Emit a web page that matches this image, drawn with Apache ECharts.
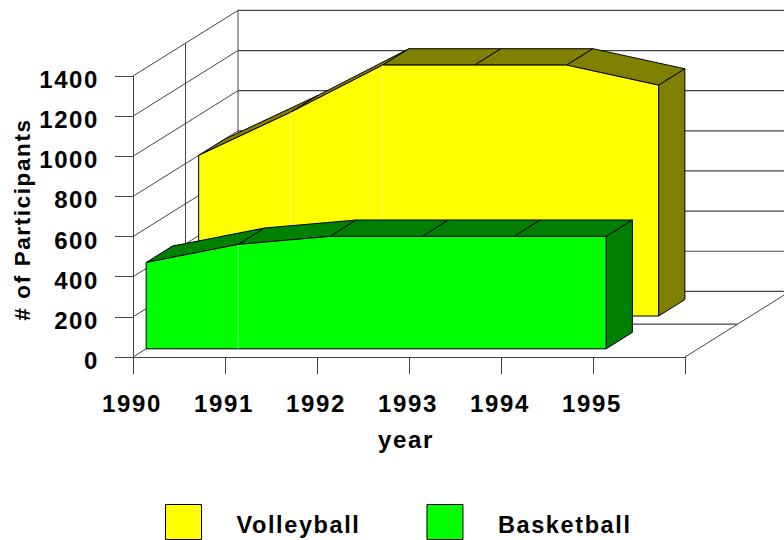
<!DOCTYPE html>
<html>
<head>
<meta charset="utf-8">
<style>
html,body{margin:0;padding:0;background:#fff}
#c{width:784px;height:540px}
#c text{letter-spacing:1.6px}
</style>
<script src="https://cdn.jsdelivr.net/npm/echarts@6/dist/echarts.min.js"></script>
</head>
<body>
<div id="c"></div>
<script>
const years = [1990, 1991, 1992, 1993, 1994, 1995];
const volleyball = [800, 1015, 1250, 1250, 1250, 1150];
const basketball = [430, 520, 560, 560, 560, 560];
const volleyballSeams = [1991, 1992];
const basketballSeams = [1991];
const yTicks = [0, 200, 400, 600, 800, 1000, 1200, 1400];

const XMIN = 1990, XMAX = 1996, YMAX = 1400;
const DX = 26.25, DY = -16.4;          // screen shift of one depth unit
const FONT = 'Liberation Sans';
const INK = '#000';
const GRID = '#444';

function proj(api, x, y, d) {
  const p = api.coord([x, y]);
  return [p[0] + d * DX, p[1] + d * DY];
}
function line(a, b, color, w) {
  return {type: 'line', silent: true,
    shape: {x1: a[0], y1: a[1], x2: b[0], y2: b[1]},
    style: {stroke: color, lineWidth: w, fill: null}};
}
function poly(points, fill) {
  return {type: 'polygon', silent: true, shape: {points},
    style: {fill, stroke: INK, lineWidth: 1, lineJoin: 'miter'}};
}

function wallsItem(params, api) {
  const children = [];
  yTicks.forEach(t => {
    children.push(line(proj(api, XMIN, t, 0), proj(api, XMIN, t, 4), GRID, 1));
    children.push(line(proj(api, XMIN, t, 4), proj(api, XMAX, t, 4), GRID, 1.2));
  });
  children.push(line(proj(api, XMIN, 0, 4), proj(api, XMIN, YMAX, 4), GRID, 1));
  children.push(line(proj(api, XMIN, 0, 2), proj(api, XMIN, YMAX, 2), GRID, 1));
  children.push(line(proj(api, XMIN, 0, 2), proj(api, XMAX, 0, 2), GRID, 1.2));
  children.push(line(proj(api, XMAX, 0, 0), proj(api, XMAX, 0, 4), GRID, 1));
  return {type: 'group', children};
}

function areaRenderer(values, seams, d0, d1, front, dark) {
  return function (params, api) {
    if (params.dataIndex > 0) return null;
    const children = [];
    const last = years.length - 1;
    const xEnd = years[last], vEnd = values[last];
    const pts = years.map((x, i) => proj(api, x, values[i], d0));
    pts.push(proj(api, xEnd, 0, d0), proj(api, years[0], 0, d0));
    for (let i = 0; i < last; i++) {
      children.push(poly([
        proj(api, years[i], values[i], d0),
        proj(api, years[i + 1], values[i + 1], d0),
        proj(api, years[i + 1], values[i + 1], d1),
        proj(api, years[i], values[i], d1)
      ], dark));
    }
    children.push(poly([
      proj(api, xEnd, vEnd, d0), proj(api, xEnd, vEnd, d1),
      proj(api, xEnd, 0, d1), proj(api, xEnd, 0, d0)
    ], dark));
    children.push(poly(pts, front));
    seams.forEach(x => {
      const v = values[years.indexOf(x)];
      children.push(line(proj(api, x, 0, d0), proj(api, x, v, d0), 'rgba(255,255,255,0.4)', 1));
    });
    return {type: 'group', children};
  };
}

const chart = echarts.init(document.getElementById('c'), null, {renderer: 'svg'});
chart.setOption({
  animation: false,
  backgroundColor: '#fff',
  grid: {left: 133, top: 76, width: 552, height: 281},
  legend: {
    left: 165, top: 504, orient: 'horizontal',
    data: ['Volleyball', 'Basketball'],
    icon: 'rect', itemWidth: 36, itemHeight: 35, itemGap: 82,
    padding: 0,
    itemStyle: {borderColor: INK, borderWidth: 1},
    formatter: name => '{t|' + name + '}',
    textStyle: {
      fontFamily: FONT, fontWeight: 'bold', fontSize: 23.5, color: INK, padding: [0, 0, 0, 30],
      rich: {t: {fontFamily: FONT, fontWeight: 'bold', fontSize: 23.5, color: INK, padding: [6, 0, 0, 0]}}
    },
    selectedMode: false
  },
  xAxis: {
    type: 'value', min: XMIN, max: XMAX, interval: 1,
    name: 'year', nameLocation: 'middle', nameGap: 70,
    nameTextStyle: {fontFamily: FONT, fontWeight: 'bold', fontSize: 24, color: INK, padding: [0, 6, 0, 0]},
    splitLine: {show: false},
    axisLine: {show: true, lineStyle: {color: GRID, width: 1}},
    axisTick: {show: true, length: 17, lineStyle: {color: GRID, width: 1}},
    axisLabel: {
      margin: 34, fontFamily: FONT, fontWeight: 'bold', fontSize: 24, color: INK,
      padding: [0, 2, 0, 0],
      formatter: v => years.includes(v) ? String(v) : ''
    }
  },
  yAxis: {
    type: 'value', min: 0, max: YMAX, interval: 200,
    name: '# of Participants', nameLocation: 'middle', nameGap: 99,
    nameTextStyle: {fontFamily: FONT, fontWeight: 'bold', fontSize: 22.5, color: INK, padding: [0, 6, 0, 0]},
    splitLine: {show: false},
    axisLine: {show: true, lineStyle: {color: GRID, width: 1}},
    axisTick: {show: true, length: 18, lineStyle: {color: GRID, width: 1}},
    axisLabel: {
      margin: 34, fontFamily: FONT, fontWeight: 'bold', fontSize: 24, color: INK,
      verticalAlign: 'top', lineHeight: 7, formatter: v => String(v)
    }
  },
  series: [
    {type: 'custom', name: 'walls', clip: false, silent: true, z: 1,
      data: [[XMIN, 0]], renderItem: wallsItem},
    {type: 'custom', name: 'Volleyball', clip: false, silent: true, z: 2,
      itemStyle: {color: '#ffff00'},
      data: years.map((y, i) => [y, volleyball[i]]),
      renderItem: areaRenderer(volleyball, volleyballSeams, 2.5, 3.5, '#ffff00', '#808000')},
    {type: 'custom', name: 'Basketball', clip: false, silent: true, z: 3,
      itemStyle: {color: '#00ff00'},
      data: years.map((y, i) => [y, basketball[i]]),
      renderItem: areaRenderer(basketball, basketballSeams, 0.5, 1.5, '#00ff00', '#008000')}
  ]
});
</script>
</body>
</html>
